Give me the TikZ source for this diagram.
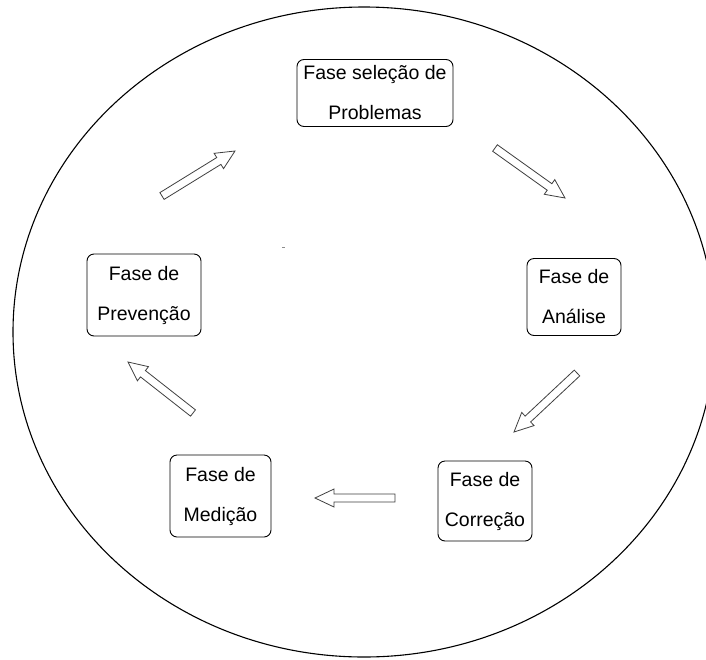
\documentclass[tikz,border=0pt]{standalone}
\usepackage{fontspec}
\setmainfont{Liberation Sans}
\usetikzlibrary{calc}

\tikzset{
  phase/.style={draw=black, line width=0.9pt, rounded corners=7pt, fill=white,
    align=center, inner sep=0pt,
    font=\fontsize{19.5}{40}\selectfont},
  arrowline/.style={draw=black!75, line width=0.8pt, line join=miter, fill=white},
  outer/.style={draw=black, line width=1.1pt}
}

% hollow block arrow from tail #1 to tip #2
\newcommand\blockarrow[2]{%
  \path ($(#2)!19pt!(#1)$) coordinate (neck);
  \draw[arrowline]
    ($(#1)!4pt!90:(#2)$) -- ($(neck)!4pt!90:(#2)$) -- ($(neck)!9pt!90:(#2)$)
    -- (#2)
    -- ($(neck)!9pt!-90:(#2)$) -- ($(neck)!4pt!-90:(#2)$) -- ($(#1)!4pt!-90:(#2)$)
    -- cycle;
}

\begin{document}
\begin{tikzpicture}[x=1pt, y=-1pt]
  \useasboundingbox (0,0) rectangle (706,659);
  \clip (0,0) rectangle (706,659);
  \fill[white] (0,0) rectangle (706,659);

  % surrounding cycle
  \draw[outer] (364,332) ellipse [x radius=351, y radius=325];

  % phases
  \node[phase, minimum width=156pt, minimum height=67pt] (selecao) at (375,93)
    {Fase seleção de\\Problemas};
  \node[phase, minimum width=94pt, minimum height=77pt] (analise) at (574,297)
    {Fase de\\Análise};
  \node[phase, minimum width=94pt, minimum height=80pt] (correcao) at (485,501)
    {Fase de\\Correção};
  \node[phase, minimum width=101pt, minimum height=82pt] (medicao) at (220.5,496)
    {Fase de\\Medição};
  \node[phase, minimum width=114pt, minimum height=82pt] (prevencao) at (144,295)
    {Fase de\\Prevenção};

  % arrow ends
  \coordinate (a1t) at (162,196);  \coordinate (a1h) at (235,151);
  \coordinate (a2t) at (495,148);  \coordinate (a2h) at (565,198);
  \coordinate (a3t) at (577,373);  \coordinate (a3h) at (514,432);
  \coordinate (a4t) at (395,498);  \coordinate (a4h) at (315,498);
  \coordinate (a5t) at (193,413);  \coordinate (a5h) at (128,362);

  \blockarrow{a1t}{a1h}
  \blockarrow{a2t}{a2h}
  \blockarrow{a3t}{a3h}
  \blockarrow{a4t}{a4h}
  \blockarrow{a5t}{a5h}

  % small speck
  \fill[black!45] (282,246.5) rectangle (285,247.5);
\end{tikzpicture}
\end{document}
